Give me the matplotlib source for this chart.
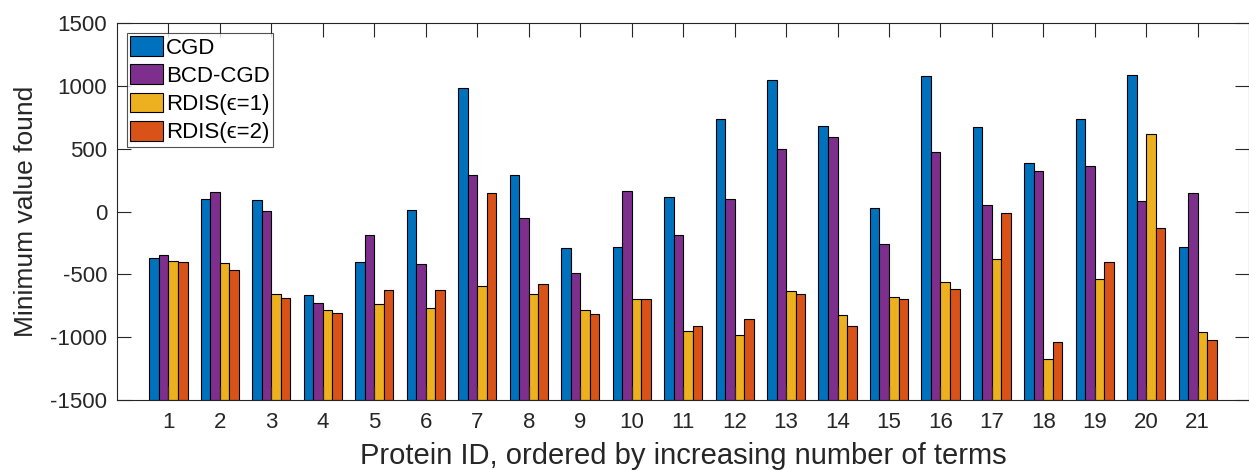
import numpy as np
import matplotlib.pyplot as plt

plt.rcParams['font.family'] = ['Liberation Sans', 'DejaVu Sans']
plt.rcParams['axes.unicode_minus'] = False

protein_ids = np.arange(1, 22)
cgd = [-370, 100, 90, -665, -400, 10, 980, 290, -290, -280, 115,
       740, 1050, 680, 25, 1080, 670, 385, 740, 1085, -280]
bcd_cgd = [-345, 155, 5, -730, -185, -420, 290, -55, -490, 160, -190,
           100, 500, 590, -255, 475, 55, 325, 365, 80, 145]
rdis_1 = [-390, -410, -655, -785, -740, -765, -590, -655, -780, -695, -955,
          -985, -630, -825, -680, -560, -375, -1170, -540, 620, -960]
rdis_2 = [-400, -465, -685, -810, -625, -625, 150, -580, -815, -700, -910,
          -855, -655, -915, -695, -620, -15, -1040, -400, -135, -1025]

series = [cgd, bcd_cgd, rdis_1, rdis_2]
labels = ['CGD', 'BCD-CGD', 'RDIS(\u03f5=1)', 'RDIS(\u03f5=2)']
colors = ['#0072BD', '#7E2F8E', '#EDB120', '#D95319']

base = -1500
width = 0.185

fig = plt.figure(figsize=(12.49, 4.70), dpi=100)
ax = fig.add_axes([0.0937, 0.149, 0.9065, 0.802])

# bars grow up from the bottom of the axis, like in the MATLAB figure
for i, (vals, lab, col) in enumerate(zip(series, labels, colors)):
    offs = (i - 1.5) * width
    ax.bar(protein_ids + offs, np.array(vals) - base, bottom=base, width=width,
           color=col, edgecolor='black', linewidth=0.8, label=lab)

ax.set_xlim(0, 22)
ax.set_ylim(-1500, 1500)
ax.set_xticks(protein_ids)
ax.set_yticks(np.arange(-1500, 1501, 500))
ax.tick_params(direction='in', top=True, right=True, length=10,
               labelsize=16, colors='#262626', width=0.8)
ax.tick_params(axis='y', pad=7)
ax.tick_params(axis='x', pad=9)
for sp in ax.spines.values():
    sp.set_color('#262626')
    sp.set_linewidth(0.8)

ax.set_xlabel('Protein ID, ordered by increasing number of terms', fontsize=21,
              color='#262626', labelpad=6)
ax.set_ylabel('Minimum value found', fontsize=19, color='#262626', labelpad=9)

leg = ax.legend(loc='upper left', fontsize=16, frameon=True, fancybox=False,
                edgecolor='#262626', borderpad=0.15, handlelength=1.45,
                handleheight=1.0, handletextpad=0.15, labelspacing=0.25,
                borderaxespad=0.45)
leg.get_frame().set_linewidth(0.8)

fig.savefig('out.png', dpi=100)
